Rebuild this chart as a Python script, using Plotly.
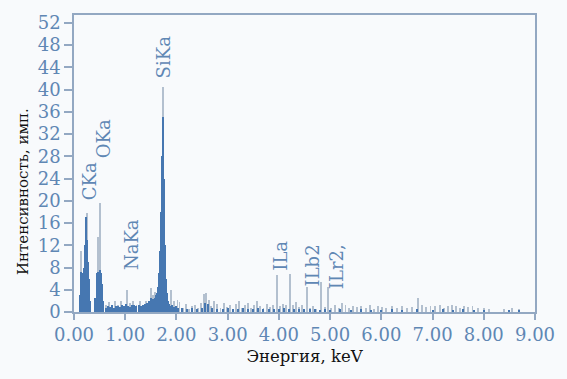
import plotly.graph_objects as go

# ---- data ----
# dense (blue) spectrum channels, keV and counts
blue_energy = [0.12, 0.14, 0.16, 0.18, 0.20, 0.22, 0.24, 0.26, 0.28, 0.30, 0.32,
               0.42, 0.44, 0.46, 0.48, 0.50, 0.52, 0.54, 0.56,
               0.62, 0.66, 0.70, 0.74, 0.78, 0.82, 0.86, 0.90, 0.94, 0.98, 1.02,
               1.06, 1.10, 1.14, 1.18, 1.22, 1.26, 1.30, 1.34, 1.38, 1.42, 1.46,
               1.50, 1.54, 1.58,
               1.60, 1.62, 1.64, 1.66, 1.68, 1.70, 1.72, 1.74, 1.76, 1.78, 1.80,
               1.82, 1.84, 1.86, 1.88,
               1.92, 1.96, 2.00, 2.04, 2.10, 2.20, 2.30, 2.40, 2.50, 2.56, 2.62,
               2.70, 2.80, 2.90, 3.00, 3.10, 3.20, 3.30, 3.40, 3.50, 3.60, 3.70,
               3.80, 3.90, 4.00, 4.10, 4.20, 4.30, 4.40, 4.50, 4.60, 4.70, 4.80,
               4.90, 5.00, 5.20, 5.40, 5.60, 5.80, 6.00, 6.20, 6.40, 6.70, 7.00,
               7.20, 7.40, 7.60, 7.80, 8.00, 8.50, 8.68]
blue_counts = [3.0, 7.2, 7.0, 6.5, 8.0, 12.0, 17.0, 13.0, 9.0, 6.0, 2.0,
               2.5, 7.0, 7.2, 7.0, 7.5, 7.0, 5.0, 2.0,
               0.8, 1.0, 0.9, 1.2, 0.8, 1.0, 1.1, 0.9, 1.3, 1.0, 1.4,
               1.1, 0.9, 1.2, 1.3, 1.0, 1.2, 1.1, 1.3, 1.4, 1.6, 1.9,
               2.6, 2.3, 2.5,
               3.0, 3.5, 4.5, 7.0, 11.0, 18.0, 28.0, 35.0, 24.0, 12.0, 6.0,
               3.5, 2.0, 1.5, 1.0,
               1.2, 0.9, 1.0, 0.7, 0.8, 0.6, 0.7, 0.6, 0.8, 1.6, 1.5,
               0.7, 0.6, 0.5, 0.7, 0.5, 0.6, 0.7, 0.5, 0.6, 0.7, 0.5,
               0.6, 0.5, 0.6, 0.7, 0.6, 0.5, 0.6, 0.5, 0.5, 0.6, 0.4,
               0.5, 0.4, 0.5, 0.4, 0.5, 0.4, 0.4, 0.5, 0.4, 0.6, 0.4,
               0.5, 0.4, 0.5, 0.4, 0.4, 0.3, 0.3]

# light spectral lines (maximum counts)
line_energy = [0.13, 0.245, 0.47, 0.515,
               0.62, 0.68, 0.74, 0.80, 0.86, 0.92, 0.98, 1.04, 1.10, 1.16, 1.22,
               1.28, 1.34, 1.40, 1.46, 1.50, 1.54, 1.58, 1.74, 1.90, 1.96, 2.02,
               2.06, 2.12, 2.18, 2.24, 2.30, 2.36, 2.42, 2.48, 2.53, 2.58, 2.63,
               2.68, 2.74, 2.80, 2.86, 2.92, 2.98, 3.04, 3.10, 3.16, 3.22, 3.28,
               3.34, 3.40, 3.46, 3.52, 3.58, 3.64, 3.70, 3.76, 3.82, 3.88, 3.96,
               4.02, 4.08, 4.14, 4.22, 4.28, 4.34, 4.40, 4.46, 4.54, 4.60, 4.66,
               4.72, 4.83, 4.90, 4.96, 5.02, 5.10, 5.18, 5.24, 5.30, 5.36, 5.44,
               5.52, 5.60, 5.70, 5.78, 5.86, 5.94, 6.02, 6.10, 6.20, 6.30, 6.40,
               6.50, 6.60, 6.71, 6.80, 6.88, 6.96, 7.05, 7.14, 7.22, 7.30, 7.38,
               7.46, 7.54, 7.62, 7.70, 7.78, 7.88, 8.00, 8.10, 8.40, 8.55, 8.68]
line_counts = [11.0, 17.8, 13.4, 19.6,
               1.2, 1.8, 1.0, 2.0, 1.3, 1.9, 1.0, 4.0, 1.6, 1.9, 1.2,
               1.9, 1.3, 1.9, 1.6, 4.3, 3.0, 3.6, 40.4, 4.0, 2.0, 2.1,
               1.8, 0.8, 1.5, 0.6, 1.0, 1.3, 0.7, 1.6, 3.2, 3.4, 2.2,
               1.1, 2.0, 1.4, 0.8, 1.7, 0.9, 1.2, 0.6, 1.5, 1.9, 0.8,
               1.3, 1.6, 0.7, 1.2, 2.0, 1.1, 0.7, 1.4, 0.9, 1.2, 6.6,
               1.0, 1.5, 1.3, 6.9, 1.2, 1.8, 0.9, 1.3, 4.5, 0.8, 1.1,
               0.6, 5.4, 0.9, 4.5, 0.7, 1.2, 0.8, 1.6, 1.3, 0.7, 1.1,
               0.9, 1.0, 0.8, 1.2, 0.6, 1.1, 0.9, 0.7, 1.0, 0.8, 1.1,
               0.7, 0.9, 2.5, 1.2, 0.9, 1.1, 1.0, 1.2, 0.8, 1.0, 1.3,
               1.0, 0.8, 1.1, 0.9, 1.0, 0.7, 0.8, 0.6, 0.6, 0.7, 0.6]

peak_labels = ["CKa", "OKa", "NaKa", "SiKa", "ILa", "ILb2", "ILr2,"]
peak_label_x = [0.29, 0.58, 1.12, 1.74, 4.03, 4.65, 5.13]
peak_label_y = [23.5, 31.2, 12.1, 45.8, 10.2, 8.4, 8.2]

x_ticks = [0, 1, 2, 3, 4, 5, 6, 7, 8, 9]
x_tick_text = ["0.00", "1.00", "2.00", "3.00", "4.00", "5.00", "6.00", "7.00", "8.00", "9.00"]
y_ticks = list(range(0, 53, 4))

BLUE_TXT = "#5f87b4"
AXIS = "#93a8c2"
SERIF = "DejaVu Serif"

fig = go.Figure()
fig.add_trace(go.Bar(x=line_energy, y=line_counts, width=0.018,
                     marker=dict(color="#b3c0cf", line=dict(width=0)),
                     showlegend=False, hoverinfo="skip"))
fig.add_trace(go.Bar(x=blue_energy, y=blue_counts, width=0.021,
                     marker=dict(color="#4677b1", line=dict(width=0)),
                     showlegend=False, hoverinfo="skip"))

for t, x, y in zip(peak_labels, peak_label_x, peak_label_y):
    fig.add_annotation(x=x, y=y, xref="x", yref="y", text=t, textangle=-90,
                       showarrow=False,
                       font=dict(family=SERIF, size=18, color=BLUE_TXT))

# y-axis title (placed lower than the plot centre, as in the reference)
fig.add_annotation(x=-0.112, y=0.405, xref="paper", yref="paper",
                   text="Интенсивность, имп.", textangle=-90, showarrow=False,
                   xanchor="center", yanchor="middle",
                   font=dict(family=SERIF, size=15, color="#111111"))

fig.update_layout(
    width=567, height=379,
    margin=dict(l=74, r=27, t=12, b=67),
    paper_bgcolor="#f8fafc", plot_bgcolor="#f8fafc",
    barmode="overlay", bargap=0,
    xaxis=dict(range=[0, 9], tickvals=x_ticks, ticktext=x_tick_text,
               showgrid=False, zeroline=False, showline=True, linecolor=AXIS,
               linewidth=1.5, mirror=True, ticks="outside", ticklen=6,
               tickcolor=AXIS, tickwidth=1.5,
               tickfont=dict(family=SERIF, size=18, color=BLUE_TXT),
               title=dict(text="Энергия, keV", standoff=6,
                          font=dict(family=SERIF, size=16.5, color="#111111"))),
    yaxis=dict(range=[0, 53.4], tickvals=y_ticks,
               showgrid=False, zeroline=False, showline=True, linecolor=AXIS,
               linewidth=1.5, mirror=True, ticks="outside", ticklen=8,
               tickcolor=AXIS, tickwidth=1.5,
               tickfont=dict(family=SERIF, size=18, color=BLUE_TXT)),
)

fig.write_html("out.html")
